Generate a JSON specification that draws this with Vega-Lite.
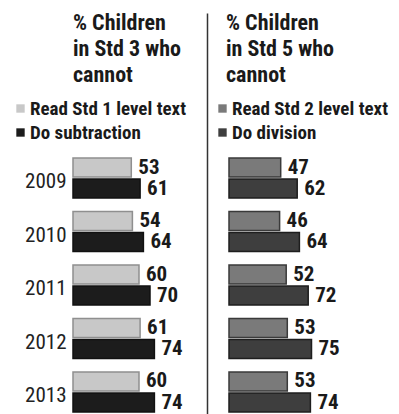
{
  "$schema": "https://vega.github.io/schema/vega-lite/v6.json",
  "autosize": {"type": "none"},
  "padding": {"left": 73, "top": 13, "right": 326, "bottom": 401},
  "background": "#ffffff",
  "spacing": 46,
  "bounds": "flush",
  "data": {
    "values": [
      {"panel": "std3", "year": "2009", "measure": "Read Std 1 level text", "value": 53},
      {"panel": "std3", "year": "2009", "measure": "Do subtraction", "value": 61},
      {"panel": "std3", "year": "2010", "measure": "Read Std 1 level text", "value": 54},
      {"panel": "std3", "year": "2010", "measure": "Do subtraction", "value": 64},
      {"panel": "std3", "year": "2011", "measure": "Read Std 1 level text", "value": 60},
      {"panel": "std3", "year": "2011", "measure": "Do subtraction", "value": 70},
      {"panel": "std3", "year": "2012", "measure": "Read Std 1 level text", "value": 61},
      {"panel": "std3", "year": "2012", "measure": "Do subtraction", "value": 74},
      {"panel": "std3", "year": "2013", "measure": "Read Std 1 level text", "value": 60},
      {"panel": "std3", "year": "2013", "measure": "Do subtraction", "value": 74},
      {"panel": "std5", "year": "2009", "measure": "Read Std 2 level text", "value": 47},
      {"panel": "std5", "year": "2009", "measure": "Do division", "value": 62},
      {"panel": "std5", "year": "2010", "measure": "Read Std 2 level text", "value": 46},
      {"panel": "std5", "year": "2010", "measure": "Do division", "value": 64},
      {"panel": "std5", "year": "2011", "measure": "Read Std 2 level text", "value": 52},
      {"panel": "std5", "year": "2011", "measure": "Do division", "value": 72},
      {"panel": "std5", "year": "2012", "measure": "Read Std 2 level text", "value": 53},
      {"panel": "std5", "year": "2012", "measure": "Do division", "value": 75},
      {"panel": "std5", "year": "2013", "measure": "Read Std 2 level text", "value": 53},
      {"panel": "std5", "year": "2013", "measure": "Do division", "value": 74}
    ]
  },
  "resolve": {
    "scale": {"x": "independent", "y": "independent", "color": "independent", "stroke": "independent", "yOffset": "independent"},
    "legend": {"color": "independent"}
  },
  "config": {
    "view": {"stroke": null},
    "font": "Roboto Condensed, DejaVu Sans Condensed, sans-serif"
  },
  "hconcat": [
    {
      "width": 110,
      "height": 401,
      "title": {
        "text": ["% Children", "in Std 3 who", "cannot"],
        "anchor": "start",
        "frame": "group",
        "font": "Roboto Condensed, DejaVu Sans Condensed, sans-serif",
        "fontSize": 22,
        "fontWeight": "bold",
        "lineHeight": 26,
        "color": "#1a1a1a",
        "offset": -74
      },
      "transform": [{"filter": "datum.panel == 'std3'"}],
      "encoding": {
        "y": {
          "field": "year", "type": "nominal",
          "scale": {"domain": ["", "2009", "2010", "2011", "2012", "2013"], "paddingInner": 0.252, "paddingOuter": 0.874, "align": 0.979},
          "axis": {"domain": false, "ticks": false, "title": null, "labelFont": "Roboto Condensed, DejaVu Sans Condensed, sans-serif", "labelFontSize": 21, "labelFontWeight": "normal", "labelColor": "#222222", "labelPadding": 7, "labelOffset": 4}
        },
        "yOffset": {"field": "measure", "type": "nominal", "scale": {"domain": ["Read Std 1 level text", "Do subtraction"], "paddingInner": 0.1}},
        "x": {"field": "value", "type": "quantitative", "scale": {"domain": [0, 100]}, "axis": null}
      },
      "layer": [
        {
          "mark": {"type": "bar", "strokeWidth": 1.5},
          "encoding": {
            "color": {
              "field": "measure", "type": "nominal",
              "scale": {"domain": ["Read Std 1 level text", "Do subtraction"], "range": ["#c8c8c8", "#1c1c1c"]},
              "legend": {
                "orient": "none", "legendX": -62, "legendY": 86, "direction": "vertical", "title": null,
                "symbolType": "square", "symbolSize": 70, "symbolStrokeWidth": 0,
                "labelFont": "Roboto Condensed, DejaVu Sans Condensed, sans-serif", "labelFontSize": 19, "labelFontWeight": "bold", "labelColor": "#1a1a1a",
                "labelOffset": 0, "rowPadding": 4, "labelLimit": 300
              }
            },
            "stroke": {
              "field": "measure", "type": "nominal",
              "scale": {"domain": ["Read Std 1 level text", "Do subtraction"], "range": ["#8f8f8f", "#111111"]},
              "legend": null
            }
          }
        },
        {
          "mark": {"type": "text", "align": "left", "baseline": "middle", "dx": 7, "fontSize": 21, "fontWeight": "bold", "color": "#1a1a1a", "font": "Roboto Condensed, DejaVu Sans Condensed, sans-serif"},
          "encoding": {"text": {"field": "value", "type": "quantitative"}}
        }
      ]
    },
    {
      "width": 110,
      "height": 401,
      "title": {
        "text": ["% Children", "in Std 5 who", "cannot"],
        "anchor": "start",
        "frame": "group",
        "font": "Roboto Condensed, DejaVu Sans Condensed, sans-serif",
        "fontSize": 22,
        "fontWeight": "bold",
        "lineHeight": 26,
        "color": "#1a1a1a",
        "offset": -74,
        "dx": -3
      },
      "transform": [{"filter": "datum.panel == 'std5'"}],
      "encoding": {
        "y": {
          "field": "year", "type": "nominal",
          "scale": {"domain": ["", "2009", "2010", "2011", "2012", "2013"], "paddingInner": 0.252, "paddingOuter": 0.874, "align": 0.979},
          "axis": {"labels": false, "ticks": false, "title": null, "domain": true, "domainColor": "#333333", "domainWidth": 1.5, "offset": 22}
        },
        "yOffset": {"field": "measure", "type": "nominal", "scale": {"domain": ["Read Std 2 level text", "Do division"], "paddingInner": 0.1}},
        "x": {"field": "value", "type": "quantitative", "scale": {"domain": [0, 100]}, "axis": null}
      },
      "layer": [
        {
          "mark": {"type": "bar", "strokeWidth": 1.5},
          "encoding": {
            "color": {
              "field": "measure", "type": "nominal",
              "scale": {"domain": ["Read Std 2 level text", "Do division"], "range": ["#7a7a7a", "#3e3e3e"]},
              "legend": {
                "orient": "none", "legendX": -16, "legendY": 86, "direction": "vertical", "title": null,
                "symbolType": "square", "symbolSize": 70, "symbolStrokeWidth": 0,
                "labelFont": "Roboto Condensed, DejaVu Sans Condensed, sans-serif", "labelFontSize": 19, "labelFontWeight": "bold", "labelColor": "#1a1a1a",
                "labelOffset": 0, "rowPadding": 4, "labelLimit": 300
              }
            },
            "stroke": {
              "field": "measure", "type": "nominal",
              "scale": {"domain": ["Read Std 2 level text", "Do division"], "range": ["#3a3a3a", "#1e1e1e"]},
              "legend": null
            }
          }
        },
        {
          "mark": {"type": "text", "align": "left", "baseline": "middle", "dx": 7, "fontSize": 21, "fontWeight": "bold", "color": "#1a1a1a", "font": "Roboto Condensed, DejaVu Sans Condensed, sans-serif"},
          "encoding": {"text": {"field": "value", "type": "quantitative"}}
        }
      ]
    }
  ]
}
